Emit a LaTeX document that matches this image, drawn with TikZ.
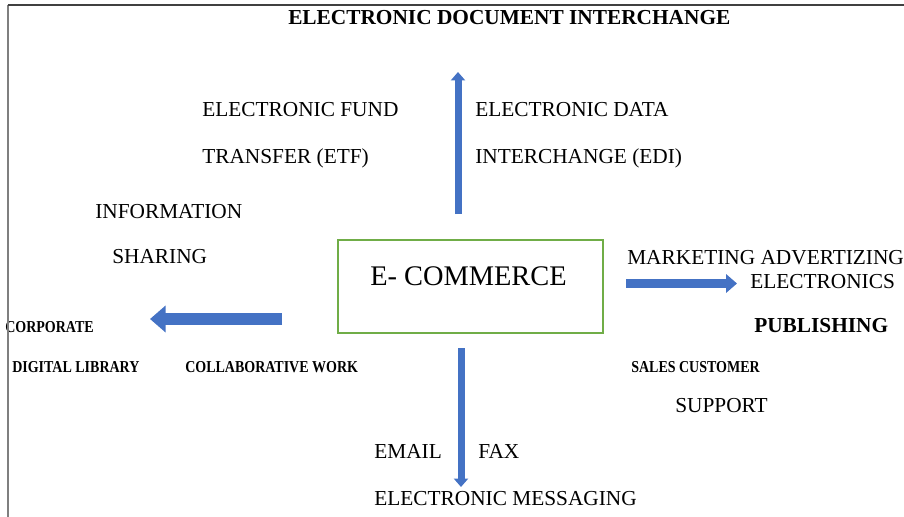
\documentclass[tikz,border=0pt]{standalone}
\usepackage{fontspec}
\setmainfont{Liberation Serif}
\usetikzlibrary{arrows.meta}
\definecolor{arrowblue}{HTML}{4472C4}
\definecolor{boxgreen}{HTML}{70AD47}
\definecolor{framegray}{HTML}{7F7F7F}
\definecolor{framedark}{HTML}{404040}
\newcommand{\narrowtext}[1]{\scalebox{0.84}[1]{#1}}
\tikzset{
	lbl/.style={anchor=base west, inner sep=0pt, font=\fontsize{16}{19}\selectfont},
	lblbold/.style={lbl, font=\fontsize{16}{19}\selectfont\bfseries},
	lblsmall/.style={lbl, font=\fontsize{12.5}{14}\selectfont\bfseries},
	blockarrow/.style 2 args={draw=arrowblue, line width=#1, -{Triangle[width=#2, length=0.6*#2]}}
}
\begin{document}
\begin{tikzpicture}[x=0.75pt, y=-0.75pt]
	\useasboundingbox (0,0) rectangle (904,517);
	% title
	\node[lblbold] (title) at (288,25) {ELECTRONIC DOCUMENT INTERCHANGE};
	% centre box
	\node[draw=boxgreen, line width=1.1pt, minimum width=198.75pt, minimum height=69.75pt, inner sep=0pt] (ecom) at (470.5,286.5) {};
	\node[lbl, font=\fontsize{21.3}{25}\selectfont] (ecomtext) at (370,285) {E- COMMERCE};
	% top
	\node[lbl] (etf1) at (202,117) {ELECTRONIC FUND};
	\node[lbl] (etf2) at (202,163) {TRANSFER (ETF)};
	\node[lbl] (edi1) at (475,117) {ELECTRONIC DATA};
	\node[lbl] (edi2) at (475,163) {INTERCHANGE (EDI)};
	% left
	\node[lbl] (info1) at (95,218) {INFORMATION};
	\node[lbl] (info2) at (112,263) {SHARING};
	\node[lblsmall] (corp) at (5,332) {\narrowtext{CORPORATE}};
	\node[lblsmall] (diglib) at (12,372) {\narrowtext{DIGITAL LIBRARY}};
	\node[lblsmall] (collab) at (185,372) {\narrowtext{COLLABORATIVE WORK}};
	% right
	\node[lbl, text depth=0pt] (mkt) at (627,264) {MARKETING ADVERTIZING};
	\node[lbl, text height=11pt] (elec) at (750,288) {ELECTRONICS};
	\node[lblbold] (publ) at (754,332) {PUBLISHING};
	\node[lblsmall] (sales) at (631,372) {\narrowtext{SALES CUSTOMER}};
	\node[lbl] (supp) at (675,412) {SUPPORT};
	% bottom
	\node[lbl] (email) at (374,458) {EMAIL};
	\node[lbl] (fax) at (478,458) {FAX};
	\node[lbl] (emsg) at (374,505) {ELECTRONIC MESSAGING};
	% arrows
	\coordinate (upS) at (458,214);
	\coordinate (upT) at (458,72);
	\coordinate (leftS) at (282,319);
	\coordinate (leftT) at (150,319);
	\coordinate (rightS) at (626,283.5);
	\coordinate (rightT) at (737,283.5);
	\coordinate (downS) at (461,348);
	\coordinate (downT) at (461,487);
	\draw[blockarrow={5.25pt}{10.5pt}] (upS) -- (upT);
	\draw[blockarrow={5.25pt}{10.5pt}] (downS) -- (downT);
	\draw[blockarrow={9pt}{19.5pt}] (leftS) -- (leftT);
	\draw[blockarrow={6.75pt}{13.5pt}] (rightS) -- (rightT);
	% frame
	\draw[framegray, line width=1.4pt] (8,517) -- (8,5);
	\draw[framedark, line width=1.4pt] (7.5,5) -- (904,5);
\end{tikzpicture}
\end{document}
